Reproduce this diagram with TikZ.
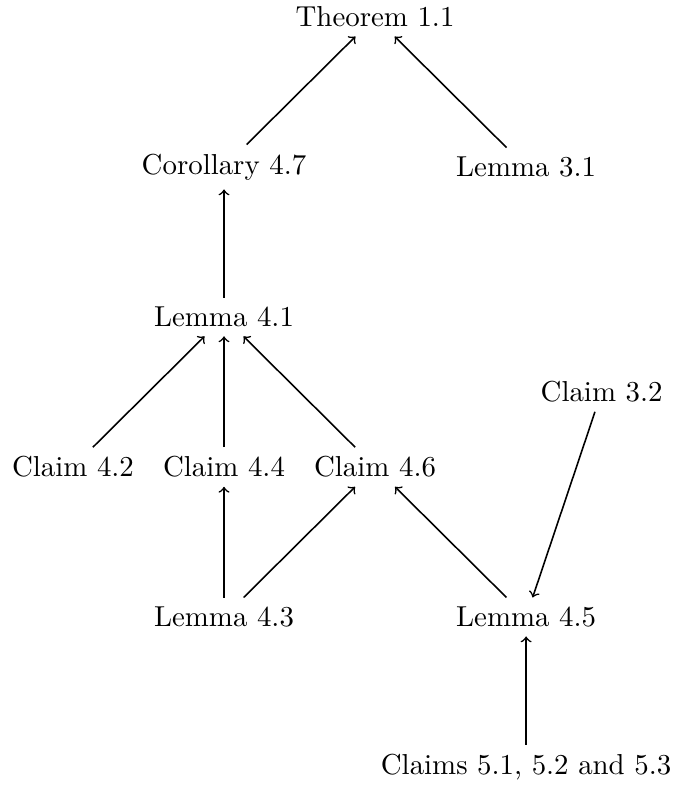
\documentclass[tikz,border=0pt]{standalone}
\begin{document}
\begin{tikzpicture}[
  x=1.007cm,
  every node/.style={font=\fontsize{10.95}{13.6}\selectfont},
  dep/.style={->, semithick}
]
\useasboundingbox (-0.973cm,-4.267cm) rectangle (8.0cm,6.227cm);
\node (t11) at (4,6) {Theorem 1.1};
\node (c47) at (2,4) {Corollary 4.7};
\node (l31) at (6,4) {Lemma 3.1};
\node (l41) at (2,2) {Lemma 4.1};
\node (c32) at (7,1) {Claim 3.2};
\node (c42) at (0,0) {Claim 4.2};
\node (c44) at (2,0) {Claim 4.4};
\node (c46) at (4,0) {Claim 4.6};
\node (l43) at (2,-2) {Lemma 4.3};
\node (l45) at (6,-2) {Lemma 4.5};
\node (c5) at (6,-4) {Claims 5.1, 5.2 and 5.3};
\draw[dep] (c47) -- (t11);
\draw[dep] (l31) -- (t11);
\draw[dep] (l41) -- (c47);
\draw[dep] (c42) -- (l41);
\draw[dep] (c44) -- (l41);
\draw[dep] (c46) -- (l41);
\draw[dep] (l43) -- (c44);
\draw[dep] (l43) -- (c46);
\draw[dep] (l45) -- (c46);
\draw[dep] (c32) -- (l45);
\draw[dep] (c5) -- (l45);
\end{tikzpicture}
\end{document}
